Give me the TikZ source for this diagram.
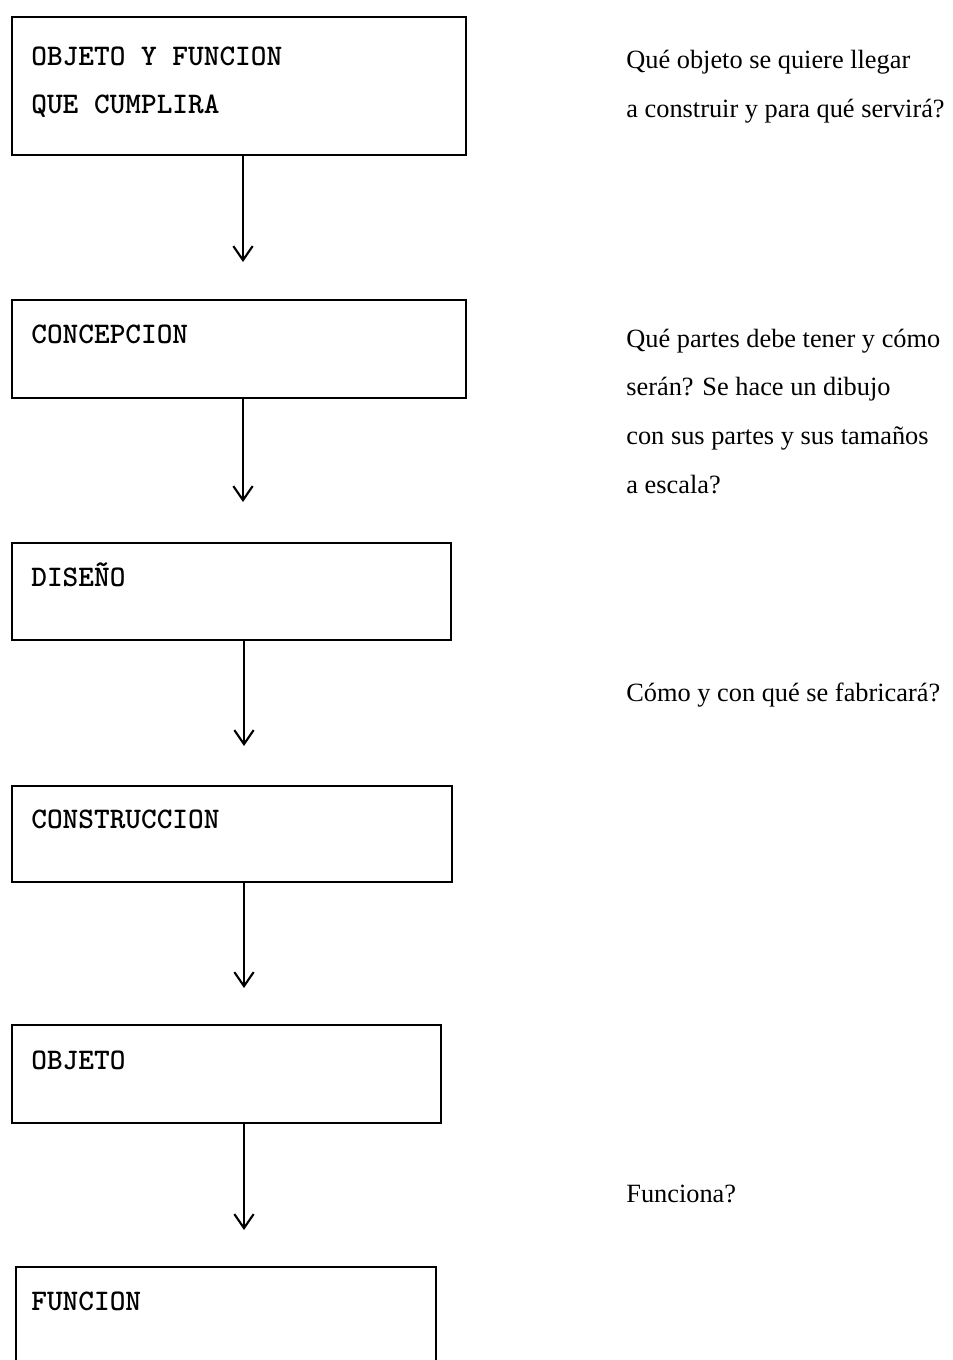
\documentclass[tikz,border=0pt]{standalone}
\usepackage{fontspec}
\setmainfont{Liberation Serif}
\usepackage{tikz}
\usetikzlibrary{arrows.meta}

\begin{document}
\begin{tikzpicture}[x=0.02cm,y=-0.02cm,
  stagebox/.style={draw,line width=1.6pt,inner sep=0pt},
  stagetext/.style={anchor=base west,inner sep=0pt,align=left,font=\fontsize{17}{27.3}\selectfont\ttfamily\bfseries},
  notetext/.style={anchor=base west,inner sep=0pt,align=left,font=\fontsize{15}{27.7}\selectfont},
  flowarrow/.style={line width=1.2pt,-{Straight Barb[length=8pt,width=11pt,line width=1.2pt]}}]
\useasboundingbox (0,0) rectangle (953,1360);
\clip (0,0) rectangle (953,1360);
\node[stagebox,minimum width=9.08cm,minimum height=2.76cm] (objfun) at (239,86) {};
\node[stagebox,minimum width=9.08cm,minimum height=1.96cm] (concep) at (239,349) {};
\node[stagebox,minimum width=8.78cm,minimum height=1.94cm] (diseno) at (231.5,591.5) {};
\node[stagebox,minimum width=8.80cm,minimum height=1.92cm] (constr) at (232,834) {};
\node[stagebox,minimum width=8.58cm,minimum height=1.96cm] (objeto) at (226.5,1074) {};
\node[stagebox,minimum width=8.40cm,minimum height=2.30cm] (funcion) at (226,1324.5) {};
\node[stagetext] (objfuntxt) at (31,113) {OBJETO Y FUNCION\\QUE CUMPLIRA};
\node[stagetext] (conceptxt) at (31,343) {CONCEPCION};
\node[stagetext] (disenotxt) at (31,586) {DISEÑO};
\node[stagetext] (constrtxt) at (31,828) {CONSTRUCCION};
\node[stagetext] (objetotxt) at (31,1069) {OBJETO};
\node[stagetext] (funciontxt) at (31,1310) {FUNCION};
\coordinate (tip1) at (243,262);
\coordinate (tip2) at (243,502);
\coordinate (tip3) at (244,746);
\coordinate (tip4) at (244,988);
\coordinate (tip5) at (244,1230);
\draw[flowarrow] (objfun.south -| tip1) -- (tip1);
\draw[flowarrow] (concep.south -| tip2) -- (tip2);
\draw[flowarrow] (diseno.south -| tip3) -- (tip3);
\draw[flowarrow] (constr.south -| tip4) -- (tip4);
\draw[flowarrow] (objeto.south -| tip5) -- (tip5);
\node[notetext] (objfunnote) at (626,117) {Qué objeto se quiere llegar\\a construir y para qué servirá?};
\node[notetext] (concepnote) at (626,493) {Qué partes debe tener y cómo\\serán? Se hace un dibujo\\con sus partes y sus tamaños\\a escala?};
\node[notetext] (disenonote) at (626,701) {Cómo y con qué se fabricará?};
\node[notetext] (objetonote) at (626,1202) {Funciona?};
\end{tikzpicture}
\end{document}
